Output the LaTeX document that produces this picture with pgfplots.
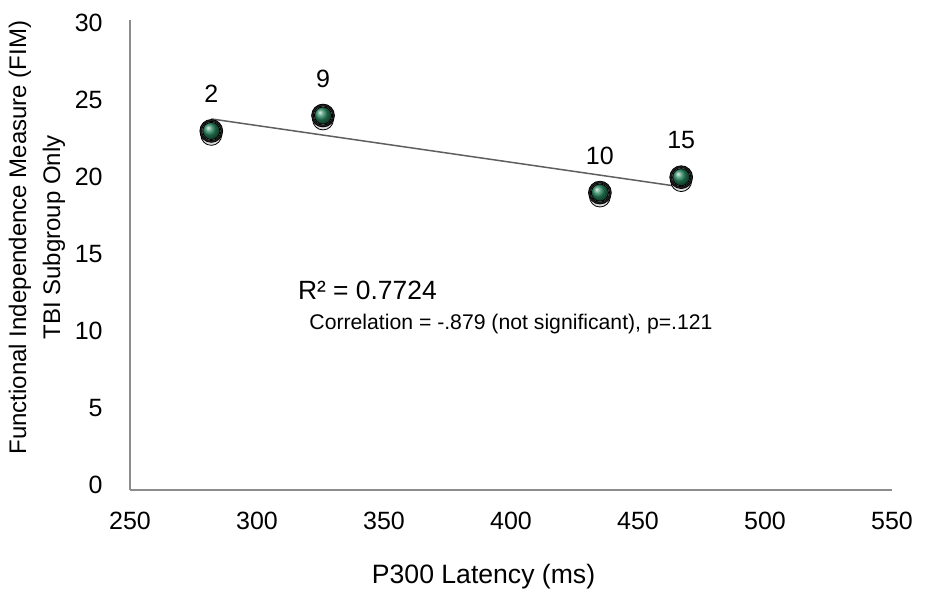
\documentclass[border=0pt]{standalone}
\usepackage{pgfplots}
\pgfplotsset{compat=1.18}
\usepackage{fontspec}
\setmainfont{Liberation Sans}
\definecolor{axgray}{RGB}{140,140,140}
\definecolor{trend}{RGB}{95,95,95}
\definecolor{ballgreen}{RGB}{40,135,95}
\begin{document}
\begin{tikzpicture}
\useasboundingbox (-65pt,-51.5pt) rectangle (398pt,245pt);
\begin{axis}[
  at={(0,0)}, anchor=south west,
  scale only axis,
  width=381pt, height=235pt,
  xmin=250, xmax=550, ymin=-0.3, ymax=30.2,
  xtick={250,300,...,550}, ytick={0,5,...,30},
  axis x line*=bottom, axis y line*=left,
  axis line style={draw=axgray, line width=1pt, -},
  major tick length=0pt,
  tick style={draw=none},
  /pgf/number format/assume math mode=true,
  ticklabel style={font=\fontsize{12.5}{14}\selectfont, inner sep=0pt},
  xticklabel style={anchor=north, yshift=-11pt},
  yticklabel style={anchor=east, xshift=-13.5pt},
  xlabel={P300 Latency (ms)},
  xlabel style={font=\fontsize{13.3}{15}\selectfont, at={(axis description cs:0.464,0)}, anchor=center, yshift=-43.5pt},
  ylabel={Functional Independence Measure (FIM)\\TBI Subgroup Only},
  ylabel style={font=\fontsize{12}{17}\selectfont, align=center, at={(axis description cs:-0.122,0.537)}, anchor=center},
  clip=false,
]
% trendline
\addplot[trend, line width=0.75pt] coordinates {(282,23.78) (467,19.37)};
% shadow
\addplot[only marks, mark=*, mark size=5.2pt, mark options={draw=none, fill=black!14, yshift=-2pt}] coordinates {(282,23) (326,24) (435,19) (467,20)};
% outer ring
\addplot[only marks, mark=*, mark size=5.7pt, mark options={draw=none, fill=black!85}] coordinates {(282,23) (326,24) (435,19) (467,20)};
\addplot[only marks, mark=*, mark size=4.8pt, mark options={draw=none, fill=gray!40}] coordinates {(282,23) (326,24) (435,19) (467,20)};
\addplot[only marks, mark=ball, mark size=4.3pt, ball color=ballgreen] coordinates {(282,23) (326,24) (435,19) (467,20)};
\node[anchor=base, font=\fontsize{12.5}{14}\selectfont] at (axis cs:282,24.83) {2};
\node[anchor=base, font=\fontsize{12.5}{14}\selectfont] at (axis cs:326,25.83) {9};
\node[anchor=base, font=\fontsize{12.5}{14}\selectfont] at (axis cs:435,20.83) {10};
\node[anchor=base, font=\fontsize{12.5}{14}\selectfont] at (axis cs:467,21.83) {15};
\node[anchor=base west, inner sep=0pt, font=\fontsize{13.2}{15}\selectfont] at (axis cs:316,12.05) {R² = 0.7724};
\node[anchor=base west, inner sep=0pt, font=\fontsize{10.6}{12}\selectfont] at (axis cs:320.5,10.1) {Correlation = -.879 (not significant), p=.121};
\end{axis}
\end{tikzpicture}
\end{document}
